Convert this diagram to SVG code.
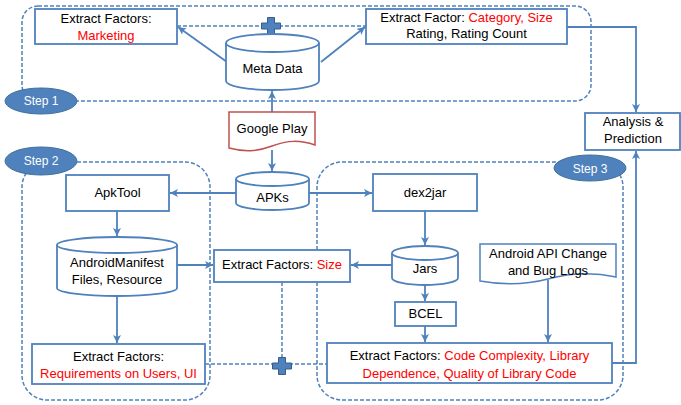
<svg xmlns="http://www.w3.org/2000/svg" width="681" height="405" viewBox="0 0 681 405">
<style>
.box{fill:#fff;stroke:#4f81bd;stroke-width:1.8}
.doc{fill:#fff;stroke-width:1.5}
.step{fill:none;stroke:#4f81bd;stroke-width:1.5;stroke-dasharray:4 2}
.oval{fill:#4f81bd;stroke:#41719c;stroke-width:1}
.t{font-family:"Liberation Sans",Arial,sans-serif;font-size:13px;fill:#000;text-anchor:middle}
.r{fill:#ff0000}
.w{fill:#fff;font-size:12px}
.ln{fill:none;stroke:#4f81bd;stroke-width:1.8}
.dl{fill:none;stroke:#4f81bd;stroke-width:1.5;stroke-dasharray:4 2}
.plus{fill:#4f81bd;stroke:#385d8a;stroke-width:1}
</style>
<defs>
<marker id="ah" markerUnits="userSpaceOnUse" markerWidth="10" markerHeight="10" refX="8" refY="4" orient="auto">
<path d="M0,0 L8,4 L0,8 L2,4 Z" fill="#4f81bd"/>
</marker>
<polygon id="plus" points="-3.5,-8.5 3.5,-8.5 3.5,-3 9.5,-3 9.5,3 3.5,3 3.5,8.5 -3.5,8.5 -3.5,3 -9.5,3 -9.5,-3 -3.5,-3"/>
</defs>

<g id="step-areas">
<rect class="step" x="22" y="6" width="569" height="95" rx="16"/>
<rect class="step" x="22" y="162" width="188" height="238" rx="25"/>
<rect class="step" x="317" y="162" width="306" height="238" rx="25"/>
</g>

<g id="connectors">
<path class="dl" d="M177,26 H366"/>
<path class="dl" d="M205,364 H327"/>
<path class="dl" d="M282,282 V360"/>
<path class="ln" d="M227,62 L178,27" marker-end="url(#ah)"/>
<path class="ln" d="M321,62 L365,27" marker-end="url(#ah)"/>
<path class="ln" d="M272,112 V91" marker-end="url(#ah)"/>
<path class="ln" d="M272,150 V171" marker-end="url(#ah)"/>
<path class="ln" d="M236,193 H170" marker-end="url(#ah)"/>
<path class="ln" d="M309,193 H372" marker-end="url(#ah)"/>
<path class="ln" d="M117,211 V236" marker-end="url(#ah)"/>
<path class="ln" d="M177,265 H213" marker-end="url(#ah)"/>
<path class="ln" d="M392,265 H351" marker-end="url(#ah)"/>
<path class="ln" d="M425,211 V245" marker-end="url(#ah)"/>
<path class="ln" d="M425,285 V301" marker-end="url(#ah)"/>
<path class="ln" d="M425,326 V342" marker-end="url(#ah)"/>
<path class="ln" d="M548,280 V342" marker-end="url(#ah)"/>
<path class="ln" d="M117,296 V343" marker-end="url(#ah)"/>
<path class="ln" d="M567,27 H636 V112" marker-end="url(#ah)"/>
<path class="ln" d="M612,363 H636 V151" marker-end="url(#ah)"/>
<use href="#plus" class="plus" transform="translate(271,26)"/>
<use href="#plus" class="plus" transform="translate(282,366)"/>
</g>

<g id="step1">
<ellipse class="oval" cx="41" cy="101" rx="36" ry="13"/>
<text class="t w" x="41" y="105">Step 1</text>
</g>
<g id="step2">
<ellipse class="oval" cx="41" cy="161" rx="36" ry="14"/>
<text class="t w" x="41" y="165">Step 2</text>
</g>
<g id="step3">
<ellipse class="oval" cx="590" cy="168" rx="36" ry="13"/>
<text class="t w" x="590" y="173">Step 3</text>
</g>

<g id="marketing">
<rect class="box" x="35" y="9" width="142" height="35"/>
<text class="t" x="106" y="23">Extract Factors:</text>
<text class="t r" x="106" y="40">Marketing</text>
</g>

<g id="metadata">
<path class="box" d="M226,43 V81 A46.5,9 0 0 0 319,81 V43"/>
<ellipse class="box" cx="272.5" cy="43" rx="46.5" ry="9"/>
<text class="t" x="272.5" y="73">Meta Data</text>
</g>

<g id="category">
<rect class="box" x="366" y="9" width="201" height="35"/>
<text class="t" x="466.5" y="22">Extract Factor: <tspan class="r">Category, Size</tspan></text>
<text class="t" x="466.5" y="38">Rating, Rating Count</text>
</g>

<g id="analysis">
<rect class="box" x="585" y="113" width="95" height="37"/>
<text class="t" x="633" y="126">Analysis &amp;</text>
<text class="t" x="633" y="143">Prediction</text>
</g>

<g id="googleplay">
<path class="doc" stroke="#c0504d" d="M229,112 H315 V145 C300,140 288,140 272,146 C256,152 244,152 229,148 Z"/>
<text class="t" x="272" y="133">Google Play</text>
</g>

<g id="apks">
<path class="box" d="M236,179 V203 A36.5,7 0 0 0 309,203 V179"/>
<ellipse class="box" cx="272.5" cy="179" rx="36.5" ry="7"/>
<text class="t" x="272.5" y="202">APKs</text>
</g>

<g id="apktool">
<rect class="box" x="66" y="175" width="103" height="36"/>
<text class="t" x="117.5" y="197">ApkTool</text>
</g>

<g id="dex2jar">
<rect class="box" x="373" y="174" width="104" height="37"/>
<text class="t" x="425" y="197">dex2jar</text>
</g>

<g id="manifest">
<path class="box" d="M57,245 V288 A60,8 0 0 0 177,288 V245"/>
<ellipse class="box" cx="117" cy="245" rx="60" ry="8"/>
<text class="t" x="117" y="267">AndroidManifest</text>
<text class="t" x="117" y="284">Files, Resource</text>
</g>

<g id="size">
<rect class="box" x="214" y="250" width="136" height="32"/>
<text class="t" x="282" y="269">Extract Factors: <tspan class="r">Size</tspan></text>
</g>

<g id="jars">
<path class="box" d="M392,253 V278 A33,7 0 0 0 458,278 V253"/>
<ellipse class="box" cx="425" cy="253" rx="33" ry="7"/>
<text class="t" x="425" y="273">Jars</text>
</g>

<g id="bcel">
<rect class="box" x="395" y="302" width="61" height="24"/>
<text class="t" x="425.5" y="318">BCEL</text>
</g>

<g id="apilogs">
<path class="doc" stroke="#4f81bd" d="M480,244 H616 V277 C592,272 570,273 548,279 C525,285 502,285 480,281 Z"/>
<text class="t" x="548" y="258">Android API Change</text>
<text class="t" x="548" y="275">and Bug Logs</text>
</g>

<g id="requirements">
<rect class="box" x="32" y="344" width="173" height="40"/>
<text class="t" x="118.5" y="361">Extract Factors:</text>
<text class="t r" x="118.5" y="378">Requirements on Users, UI</text>
</g>

<g id="codefactors">
<rect class="box" x="327" y="343" width="285" height="40"/>
<text class="t" x="469.5" y="360">Extract Factors: <tspan class="r">Code Complexity, Library</tspan></text>
<text class="t r" x="469.5" y="378">Dependence, Quality of Library Code</text>
</g>
</svg>
